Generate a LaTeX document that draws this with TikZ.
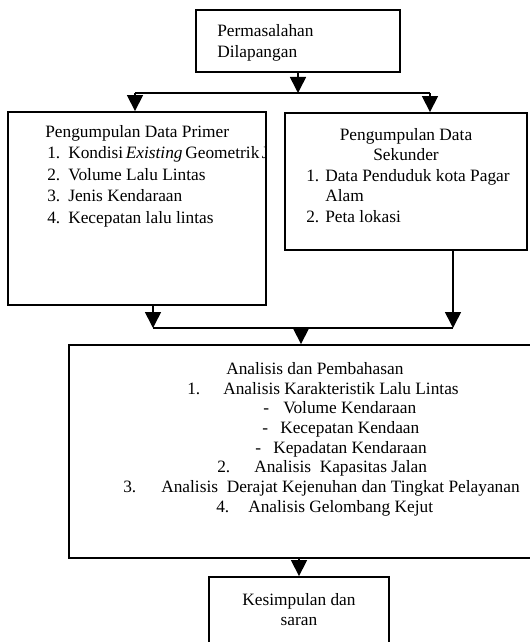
\documentclass[tikz,border=0pt]{standalone}
\usepackage{fontspec}
\setmainfont{Liberation Serif}
\usetikzlibrary{fit,arrows.meta}
\begin{document}
\begin{tikzpicture}[x=0.75pt,y=-0.75pt,
  box/.style={draw,line width=1.4pt,inner sep=0pt},
  conn/.style={line width=1.2pt},
  arr/.style={line width=1.2pt,-{Triangle[width=12pt,length=12pt]}},
  txt/.style={anchor=base west,inner sep=0pt,font=\fontsize{13pt}{15pt}\selectfont},
  ctxt/.style={anchor=base,inner sep=0pt,font=\fontsize{13pt}{15pt}\selectfont}]
\useasboundingbox (0,0) rectangle (530,642);
\clip (0,0) rectangle (530,642);
% boxes
\node[box,fit={(196,10) (400,72)}] (top) {};
\node[box,fit={(8,112) (266,305)}] (primer) {};
\node[box,fit={(285,113) (527,250)}] (sekunder) {};
\node[box,fit={(69,345) (545,558)}] (analisis) {};
\node[box,fit={(209,577) (389,665)}] (kesimpulan) {};
% top text
\node[txt] (t1) at (217,37) {Permasalahan};
\node[txt] (t2) at (217,58) {Dilapangan};
% primer text
\node[txt] (p0) at (45,137) {Pengumpulan Data Primer};
\node[txt] (p1n) at (47,158) {1.};
\begin{scope}
\clip (10,140) rectangle (265,170);
\node[txt] (p1) at (68,158) {Kondisi\hspace{2pt}\textit{Existing}\hspace{2pt}Geometrik\hspace{1.8pt}J};
\end{scope}
\node[txt] (p2n) at (47,180) {2.};
\node[txt] (p2) at (68,180) {Volume Lalu Lintas};
\node[txt] (p3n) at (47,201) {3.};
\node[txt] (p3) at (68,201) {Jenis Kendaraan};
\node[txt] (p4n) at (47,223) {4.};
\node[txt] (p4) at (68,223) {Kecepatan lalu lintas};
% sekunder text
\node[ctxt] (s0) at (406,140) {Pengumpulan Data};
\node[ctxt] (s0b) at (406,160) {Sekunder};
\node[txt] (s1n) at (306,181) {1.};
\node[txt] (s1) at (325,181) {Data Penduduk kota Pagar};
\node[txt] (s1b) at (325,201) {Alam};
\node[txt] (s2n) at (306,222) {2.};
\node[txt] (s2) at (325,222) {Peta lokasi};
% analisis text
\node[txt] (a0) at (226,374) {Analisis dan Pembahasan};
\node[txt] (a1n) at (187,394) {1.};
\node[txt] (a1) at (223,394) {Analisis Karakteristik Lalu Lintas};
\node[txt] (a1an) at (263,413) {-};
\node[txt] (a1a) at (283,413) {Volume Kendaraan};
\node[txt] (a1bn) at (262,433) {-};
\node[txt] (a1b) at (280,433) {Kecepatan Kendaan};
\node[txt] (a1cn) at (255,453) {-};
\node[txt] (a1c) at (273,453) {Kepadatan Kendaraan};
\node[txt] (a2n) at (217,472) {2.};
\node[txt] (a2) at (254,472) {Analisis\ \ Kapasitas Jalan};
\node[txt] (a3n) at (123,492) {3.};
\node[txt] (a3) at (161,492) {Analisis\ \ Derajat Kejenuhan dan Tingkat Pelayanan};
\node[txt] (a4n) at (216,512) {4.};
\node[txt] (a4) at (248,512) {Analisis Gelombang Kejut};
% kesimpulan text
\node[ctxt] (k1) at (299,605) {Kesimpulan dan};
\node[ctxt] (k2) at (299,625) {saran};
% connectors
\coordinate (sL) at (135,93);
\coordinate (sR) at (430,93);
\draw[arr] (top.south) -- (top.south |- sL);
\draw[conn] (sL) -- (sR);
\draw[arr] (sL) -- (sL |- primer.north);
\draw[arr] (sR) -- (sR |- sekunder.north);
\coordinate (mL) at (153,328);
\coordinate (mR) at (453,328);
\coordinate (mC) at (301,328);
\draw[arr] (mL |- primer.south) -- (mL);
\draw[arr] (mR |- sekunder.south) -- (mR);
\draw[conn] (mL) -- (mR);
\draw[arr] (mC) -- (mC |- analisis.north);
\draw[arr] (kesimpulan.north |- analisis.south) -- (kesimpulan.north);
\end{tikzpicture}
\end{document}
